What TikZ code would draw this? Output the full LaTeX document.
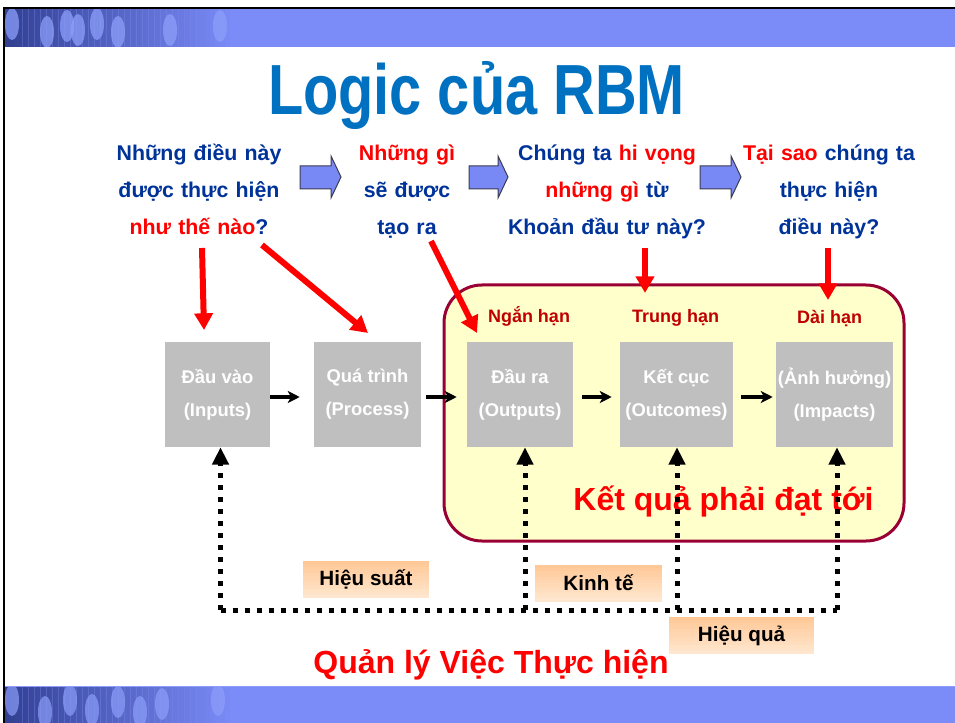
\documentclass[tikz,border=0pt]{standalone}
\usepackage{fontspec}
\setmainfont{Liberation Sans}
\usepackage{graphicx}
\usetikzlibrary{arrows.meta,calc}

\definecolor{qblue}{RGB}{0,51,153}
\definecolor{qred}{RGB}{255,0,0}
\definecolor{termred}{RGB}{192,0,0}
\definecolor{titleblue}{RGB}{0,112,192}
\definecolor{boxgray}{RGB}{191,191,191}
\definecolor{goalfill}{RGB}{255,255,204}
\definecolor{goaledge}{RGB}{153,0,51}
\definecolor{banner}{RGB}{123,139,247}
\definecolor{bannerdark}{RGB}{50,64,145}
\definecolor{bannerlight}{RGB}{140,158,250}
\definecolor{arrowblue}{RGB}{120,136,245}
\definecolor{arrowedge}{RGB}{60,60,80}
\definecolor{tagtop}{RGB}{255,200,150}
\definecolor{tagbottom}{RGB}{255,230,206}

\tikzset{
  question/.style={font=\bfseries\fontsize{16}{27.75}\selectfont, text=qblue, align=center, text width=160pt, inner sep=0pt, anchor=base},
  stage/.style={fill=boxgray, text=white, font=\bfseries\fontsize{13.8}{24.75}\selectfont, align=center, minimum height=78.75pt, inner sep=0pt},
  term/.style={font=\bfseries\fontsize{13.5}{16}\selectfont, text=termred, anchor=base, inner sep=0pt},
  measure/.style={font=\bfseries\fontsize{15.5}{18}\selectfont, minimum height=27.75pt, inner sep=0pt,
    path picture={
      \foreach \i in {0,...,11} {
        \pgfmathtruncatemacro\pct{100-\i*100/11}
        \fill[tagtop!\pct!tagbottom] ($(path picture bounding box.north west)!{\i/12}!(path picture bounding box.south west)$) rectangle ($(path picture bounding box.north east)!{(\i+1)/12}!(path picture bounding box.south east)$);
      }}},
  blockarrow/.style={fill=arrowblue, draw=arrowedge, line width=0.75pt},
  flow/.style={line width=3pt, -{Stealth[length=9pt,width=9pt,inset=2.5pt]}},
  hint/.style={draw=qred, line width=4.5pt, -{Triangle[length=12.5pt,width=13.5pt]}},
  feedback/.style={line width=3.75pt, dash pattern=on 4pt off 5pt},
  fbtip/.style={-{Triangle[length=13pt,width=12pt]}}
}

\begin{document}
\begin{tikzpicture}[x=0.75pt,y=0.75pt,yscale=-1,xscale=1]
\useasboundingbox (0,0) rectangle (955,723);

%Shape: Rectangle (top band)
\fill[banner] (5,9) rectangle (955,47);
\foreach \i in {0,...,45} {\pgfmathtruncatemacro\pct{100-\i*100/45}
  \fill[bannerdark!\pct!banner] ({5+\i*5},9) rectangle ({10.5+\i*5},47);}
\begin{scope}
\clip (5,9) rectangle (955,47);
\foreach \x in {22,28,...,200} \draw[banner, line width=0.4pt, opacity=0.35] (\x,9) -- (\x,47);
\foreach \x/\y in {12/24, 47/32, 67/26, 78/30, 97/24, 118/32, 170/30, 220/26} \fill[bannerlight, opacity=0.75] (\x,\y) ellipse (7 and 16);
\end{scope}
%Shape: Rectangle (bottom band)
\fill[banner] (5,686) rectangle (955,723);
\foreach \i in {0,...,45} {\pgfmathtruncatemacro\pct{100-\i*100/45}
  \fill[bannerdark!\pct!banner] ({5+\i*5},687) rectangle ({10.5+\i*5},723);}
\draw[bannerlight, line width=0.75pt] (5,686) -- (955,686);
\begin{scope}
\clip (5,687) rectangle (955,723);
\foreach \x in {22,28,...,200} \draw[banner, line width=0.4pt, opacity=0.35] (\x,687) -- (\x,723);
\foreach \x/\y in {12/700, 45/712, 70/700, 92/710, 118/702, 140/712, 162/704, 218/700} \fill[bannerlight, opacity=0.7] (\x,\y) ellipse (7 and 16);
\end{scope}
%Straight Lines (frame)
\draw[line width=1.5pt] (4,723) -- (4,8) -- (955,8);

%Text Node (title)
\node[font=\bfseries\fontsize{43.3}{50}\selectfont, text=titleblue, anchor=base, inner sep=0pt] (title) at (476.5,115) {\scalebox{1}[1.23]{Logic của RBM}};

%Text Node (questions)
\node[question] (q1) at (199,161) {Những điều này\\được thực hiện\\\textcolor{qred}{như thế nào}?};
\node[question] (q2) at (407,161) {\textcolor{qred}{Những gì}\\sẽ được\\tạo ra};
\node[question] (q3) at (607,161) {Chúng ta \textcolor{qred}{hi vọng}\\\textcolor{qred}{những gì} từ\\Khoản đầu tư này?};
\node[question] (q4) at (829,161) {\textcolor{qred}{Tại sao} chúng ta\\thực hiện\\điều này?};

%Shape: Right Arrow
\draw[blockarrow] (300,166) -- (331,166) -- (331,156) -- (341,177) -- (331,198) -- (331,189) -- (300,189) -- cycle;
\draw[blockarrow] (469,166) -- (498,166) -- (498,156) -- (508,177) -- (498,198) -- (498,189) -- (469,189) -- cycle;
\draw[blockarrow] (700,166) -- (731,166) -- (731,156) -- (741,177) -- (731,198) -- (731,189) -- (700,189) -- cycle;

%Rounded Rect
\node[draw=goaledge, fill=goalfill, line width=2.25pt, rounded corners=28.5pt, minimum width=345pt, minimum height=192pt] (goalbox) at (674,413) {};

%Text Node (horizons)
\node[term] (short) at (529,322) {Ngắn hạn};
\node[term] (mid) at (675.5,322) {Trung hạn};
\node[term] (long) at (829.5,323) {Dài hạn};

%Shape: Square (stages)
\node[stage, minimum width=78.75pt] (inp) at (217.5,394.5) {Đầu vào\\(Inputs)};
\node[stage, minimum width=80.25pt] (proc) at (367.5,394.5) {Quá trình\\(Process)};
\node[stage, minimum width=79.5pt] (outp) at (520,394.5) {Đầu ra\\(Outputs)};
\node[stage, minimum width=84.75pt] (outc) at (676.5,394.5) {Kết cục\\(Outcomes)};
\node[stage, minimum width=87.75pt] (imp) at (834.5,394.5) {(Ảnh hưởng)\\(Impacts)};

%Straight Lines (flow)
\draw[flow, shorten >=10.5pt] ($(inp.east)+(0,2.5)$) -- ($(proc.west)+(0,2.5)$);
\draw[flow, shorten <=3.75pt, shorten >=7.5pt] ($(proc.east)+(0,2.5)$) -- ($(outp.west)+(0,2.5)$);
\draw[flow, shorten <=6.75pt, shorten >=6pt] ($(outp.east)+(0,2.5)$) -- ($(outc.west)+(0,2.5)$);
\draw[flow, shorten <=6pt, shorten >=2.25pt] ($(outc.east)+(0,2.5)$) -- ($(imp.west)+(0,2.5)$);

%Straight Lines (red hints)
\coordinate (h1a) at (202,248); \coordinate (h1b) at (204,330);
\coordinate (h2a) at (262,245); \coordinate (h2b) at (368,333);
\coordinate (h3a) at (431,241); \coordinate (h3b) at (477,333);
\coordinate (h4a) at (645,248); \coordinate (h4b) at (645,293);
\coordinate (h5a) at (828,248); \coordinate (h5b) at (828,300);
\draw[hint] (h1a) -- (h1b);
\draw[hint] (h2a) -- (h2b);
\draw[hint] (h3a) -- (h3b);
\draw[hint] (h4a) -- (h4b);
\draw[hint] (h5a) -- (h5b);

%Text Node (goal)
\node[font=\bfseries\fontsize{24}{28}\selectfont, text=qred, anchor=base, inner sep=0pt] (goal) at (723.5,510) {Kết quả phải đạt tới};

%Text Node (measures)
\node[measure, minimum width=94.5pt] (eff) at (366,579.5) {Hiệu suất};
\node[measure, minimum width=95.25pt] (econ) at (598.5,583) {Kinh tế};
\node[measure, minimum width=108.75pt] (effect) at (741.5,635.5) {Hiệu quả};

%Dotted Lines (feedback)
\coordinate (fin) at ($(inp.south)+(3,0)$);
\coordinate (fout) at ($(outp.south)+(5,0)$);
\coordinate (foc) at ($(outc.south)+(0.5,0)$);
\coordinate (fim) at ($(imp.south)+(2.5,0)$);
\coordinate (base) at (0,610);
\draw[feedback] (fin |- base) -- (fim |- base);
\draw[feedback, fbtip] (fin |- base) -- (fin);
\draw[feedback, fbtip] (fout |- base) -- (fout);
\draw[feedback, fbtip] (foc |- base) -- (foc);
\draw[feedback, fbtip] (fim |- base) -- (fim);

%Text Node (footer)
\node[font=\bfseries\fontsize{24}{28}\selectfont, text=qred, anchor=base, inner sep=0pt] (mgmt) at (491,673) {Quản lý Việc Thực hiện};

\end{tikzpicture}
\end{document}
